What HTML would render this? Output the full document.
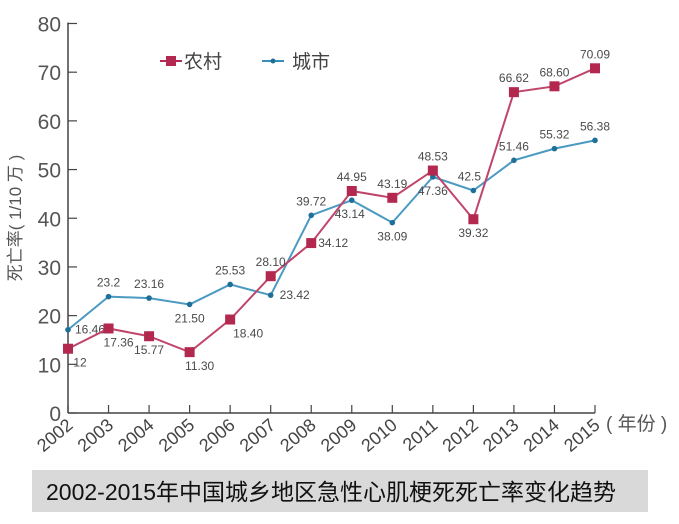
<!DOCTYPE html>
<html><head><meta charset="utf-8"><style>
body{margin:0;background:#fff;width:679px;height:519px;overflow:hidden;font-family:"Liberation Sans","Noto Sans CJK SC",sans-serif}
</style></head><body>
<svg width="679" height="519" xmlns="http://www.w3.org/2000/svg">
<g id="axes"></g>
<g id="series"></g>
<g>
<g><line x1="160" y1="61" x2="182" y2="61" stroke="#b3284f" stroke-width="2"/><rect x="166" y="56" width="10" height="10" fill="#b3284f"/><text x="184" y="68" font-size="19" fill="#444">农村</text></g>
<g><line x1="262" y1="61" x2="284" y2="61" stroke="#3a8fb8" stroke-width="2"/><circle cx="273" cy="61" r="2.5" fill="#1f6f98"/><text x="292" y="68" font-size="19" fill="#444">城市</text></g>
</g>
<text transform="translate(21,218) rotate(-90)" text-anchor="middle" font-size="17" fill="#555">死亡率( 1/10 万 )</text>
<text x="606" y="430" font-size="19" fill="#555">( 年份 )</text>
<rect x="32" y="470" width="616" height="42" fill="#d9d9d9"/>
<text x="46" y="500" font-size="23" fill="#111">2002-2015年中国城乡地区急性心肌梗死死亡率变化趋势</text>
</svg>
<script>
const years=[2002,2003,2004,2005,2006,2007,2008,2009,2010,2011,2012,2013,2014,2015];
const rural=[13.2,17.36,15.77,12.5,19.2,28.1,34.9,45.6,44.2,49.8,39.8,65.9,67.1,70.8];
const ruralLabels=["12","17.36","15.77","11.30","18.40","28.10","34.12","44.95","43.19","48.53","39.32","66.62","68.60","70.09"];
const urban=[17.1,23.9,23.6,22.3,26.4,24.2,40.6,43.7,39.1,48.5,45.7,51.9,54.3,56.0];
const urbanLabels=["16.46","23.2","23.16","21.50","25.53","23.42","39.72","43.14","38.09","47.36","42.5","51.46","55.32","56.38"];
const yTicks=[0,10,20,30,40,50,60,70,80];
const NS="http://www.w3.org/2000/svg";
const x0=68,x1=595,yb=413,yt=23.5;
const X=i=>x0+(x1-x0)*i/(years.length-1);
const Y=v=>yb-(yb-yt)*v/80;
function mk(t,a,p){const e=document.createElementNS(NS,t);for(const k in a)e.setAttribute(k,a[k]);if(p)p.appendChild(e);return e;}
const ax=document.getElementById('axes'),sr=document.getElementById('series');
let l=mk('line',{x1:x0,y1:yt-1,x2:x0,y2:yb,stroke:'#444','stroke-width':1.5},ax);


l=mk('line',{x1:x0,y1:yb,x2:x1,y2:yb,stroke:'#444','stroke-width':1.5},ax);


yTicks.forEach(v=>{const y=Y(v);
mk('line',{x1:x0,y1:y,x2:x0+9,y2:y,stroke:'#444','stroke-width':1.2},ax);
const t=mk('text',{x:x0-7,y:y+8,'text-anchor':'end','font-size':21,fill:'#555'},ax);t.textContent=v;

});
years.forEach((yr,i)=>{const x=X(i);
mk('line',{x1:x,y1:yb,x2:x,y2:yb-8,stroke:'#444','stroke-width':1.2},ax);
const t=mk('text',{transform:`translate(${x+6},${yb+14}) rotate(-40)`,'text-anchor':'end','font-size':18,fill:'#444'},ax);t.textContent=yr;

});
const rOff=[[12,18],[10,18],[0,18],[10,18],[18,18],[0,-10],[22,4],[0,-10],[0,-10],[0,-10],[0,18],[0,-10],[0,-10],[0,-10]];
const uOff=[[22,4],[0,-10],[0,-10],[0,18],[0,-10],[24,4],[0,-10],[-2,18],[0,18],[0,18],[-4,-10],[0,-10],[0,-10],[0,-10]];
function draw(vals,labs,off,col,mcol,name,sq){
const p=mk('polyline',{points:vals.map((v,i)=>X(i)+','+Y(v)).join(' '),fill:'none',stroke:col,'stroke-width':2},sr);


vals.forEach((v,i)=>{let m;
if(sq)m=mk('rect',{x:X(i)-5,y:Y(v)-5,width:10,height:10,fill:mcol},sr);
else m=mk('circle',{cx:X(i),cy:Y(v),r:2.8,fill:mcol},sr);


const t=mk('text',{x:X(i)+off[i][0],y:Y(v)+off[i][1],'text-anchor':'middle','font-size':12,fill:'#4a4a4a'},sr);t.textContent=labs[i];

});}
draw(urban,urbanLabels,uOff,'#4a9ac2','#1f6f98','urban',false);
draw(rural,ruralLabels,rOff,'#c0456a','#b3284f','rural',true);
</script>
</body></html>
